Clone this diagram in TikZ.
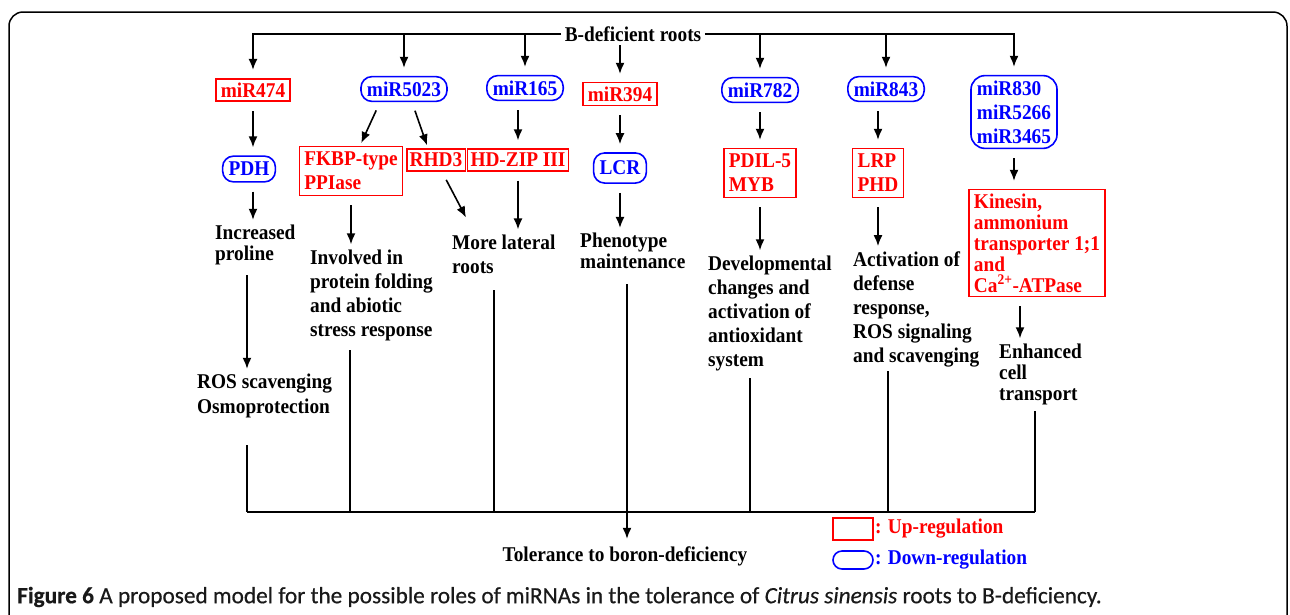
\documentclass[tikz,border=0pt]{standalone}
\usepackage{fontspec}
\setmainfont{Liberation Serif}[FakeStretch=0.92]
\newfontfamily\capfont{Carlito}[FakeBold=0.5]
\usetikzlibrary{arrows.meta}
\tikzstyle{upreg}=[rectangle, draw=red, text=red, line width=1.6pt, inner xsep=5pt, inner ysep=5.5pt, align=left]
\tikzstyle{downreg}=[rectangle, rounded corners=11pt, draw=blue, text=blue, line width=1.6pt, inner xsep=6pt, inner ysep=5pt, align=left]
\tikzstyle{effect}=[anchor=west, align=left, inner sep=1pt]
\tikzstyle{arr}=[-{Latex[length=11pt,width=9pt]}, line width=1.6pt, shorten >=8pt]
\tikzstyle{gap}=[shorten <=9pt]
\tikzstyle{wire}=[line width=1.6pt]

\begin{document}
\begin{tikzpicture}[x=1pt, y=-1pt, font=\fontsize{21}{24}\selectfont\bfseries]
	   \useasboundingbox (0,0) rectangle (1290,614);
	   \fill[white] (0,0) rectangle (1290,614);
	   \draw[line width=1.5pt, rounded corners=14pt] (9,660) -- (9,12) -- (1287,12) -- (1287,660);
		   \begin{scope}
			   \node (top) at (633,34) {B-deficient roots};

			   \node (m474) at (253,90) [upreg, inner ysep=4pt] {miR474};
			   \node (m5023) at (404,89) [downreg] {miR5023};
			   \node (m165) at (525,88) [downreg] {miR165};
			   \node (m394) at (620,94) [upreg, inner ysep=4pt] {miR394};
			   \node (m782) at (760,90) [downreg] {miR782};
			   \node (m843) at (886,89) [downreg] {miR843};
			   \node (m830) at (1014,112) [downreg, rounded corners=14pt] {miR830\\miR5266\\miR3465};

			   \node (pdh) at (249,169) [downreg, inner ysep=6pt] {PDH};
			   \node (fkbp) at (351,171) [upreg] {FKBP-type\\PPIase};
			   \node (rhd3) at (436,160) [upreg, inner xsep=3pt, inner ysep=4pt] {RHD3};
			   \node (hdzip) at (518,160) [upreg, inner xsep=3pt, inner ysep=4pt] {HD-ZIP III};
			   \node (lcr) at (620,168) [downreg, inner ysep=8pt] {LCR};
			   \node (pdil) at (760,173) [upreg] {PDIL-5\\MYB};
			   \node (lrp) at (878,173) [upreg] {LRP\\PHD};
			   \node (kin) at (1037,243) [upreg, inner ysep=4pt, font=\fontsize{21}{21}\selectfont\bfseries] {Kinesin,\\ammonium\\transporter 1;1\\and\\Ca\textsuperscript{2+}-ATPase};

			   \node (proline) at (214,245) [effect, font=\fontsize{21}{21}\selectfont\bfseries] {Increased\\proline};
			   \node (involved) at (309,295) [effect] {Involved in\\protein folding\\and abiotic\\stress response};
			   \node (lateral) at (451,254) [effect] {More lateral\\roots};
			   \node (pheno) at (579,251) [effect, font=\fontsize{21}{21}\selectfont\bfseries] {Phenotype\\maintenance};
			   \node (devel) at (707,313) [effect] {Developmental\\changes and\\activation of\\antioxidant\\system};
			   \node (activ) at (852,309) [effect] {Activation of\\defense\\response,\\ROS signaling\\and scavenging};
			   \node (enhanced) at (998,374) [effect, font=\fontsize{21}{21}\selectfont\bfseries] {Enhanced\\cell\\transport};
			   \node (ros) at (196,396) [effect, font=\fontsize{21}{25}\selectfont\bfseries] {ROS scavenging\\Osmoprotection};
			   \node (tol) at (625,556) {Tolerance to boron-deficiency};

			   \node (upkey) at (853,529) [upreg, minimum width=40pt, minimum height=22pt] {};
			   \node (upleg) at (upkey.east) [anchor=west, text=red, inner sep=1pt] {: Up-regulation};
			   \node (downkey) at (853,560) [downreg, rounded corners=9pt, minimum width=40pt, minimum height=18pt] {};
			   \node (downleg) at (downkey.east) [anchor=west, text=blue, inner sep=1pt] {: Down-regulation};

			   \node (cap) at (17,597) [anchor=west, inner sep=0pt, text=black!90, font=\capfont\fontsize{23.3}{26}\selectfont] {\textbf{Figure 6} A proposed model for the possible roles of miRNAs in the tolerance of \textit{Citrus sinensis} roots to B-deficiency.};

			   \coordinate (a1) at (247,445);
			   \coordinate (a2) at (350,350);
			   \coordinate (a3) at (494,290);
			   \coordinate (a4) at (627,284);
			   \coordinate (a5) at (750,378);
			   \coordinate (a6) at (888,371);
			   \coordinate (a7) at (1035,411);
			   \coordinate (b1) at (247,512);
			   \coordinate (b2) at (350,512);
			   \coordinate (b3) at (494,512);
			   \coordinate (b4) at (627,512);
			   \coordinate (b5) at (750,512);
			   \coordinate (b6) at (888,512);
			   \coordinate (b7) at (1035,512);
		   \end{scope}
		   \begin{scope}
			   \draw [arr] (top.west) -| (m474.north);
			   \draw [arr] (top.west -| m5023) -- (m5023.north);
			   \draw [arr] (top.west -| m165) -- (m165.north);
			   \draw [arr] (top.south -| m394) -- (m394.north);
			   \draw [arr] (top.east) -| (m830.north);
			   \draw [arr] (top.east -| m782) -- (m782.north);
			   \draw [arr] (top.east -| m843) -- (m843.north);

			   \path [arr] (m474.south) edge[gap] (m474.south |- pdh.north);
			   \path [arr, shorten >=3pt] ([xshift=-24pt]m5023.south) edge[gap] ([xshift=9pt]fkbp.north);
			   \path [arr, shorten >=3pt] ([xshift=8pt]m5023.south) edge[gap] ([xshift=-8pt]rhd3.north);
			   \path [arr] (hdzip |- m165.south) edge[gap] (hdzip.north);
			   \path [arr] (m394) edge[gap] (lcr);
			   \path [arr] (m782) edge[gap] (pdil);
			   \path [arr] (lrp |- m843.south) edge[gap] (lrp.north);
			   \path [arr] (m830.south) edge[gap] (m830.south |- kin.north);

			   \path [arr, shorten >=4pt] (m474.south |- pdh.south) edge[gap] (m474.south |- proline.north);
			   \path [arr, shorten >=4pt] (fkbp.south) edge[gap] (fkbp.south |- involved.north);
			   \path [arr, shorten >=0pt] ([xshift=6pt]rhd3.south) edge[gap] ([shift={(15,-16)}]lateral.north west);
			   \path [arr, shorten >=4pt] (hdzip.south) edge[gap] (hdzip.south |- lateral.north);
			   \path [arr, shorten >=4pt] (lcr.south) edge[gap] (lcr.south |- pheno.north);
			   \path [arr, shorten >=4pt] (pdil.south) edge[gap] (pdil.south |- devel.north);
			   \path [arr, shorten >=4pt] (lrp.south) edge[gap] (lrp.south |- activ.north);
			   \path [arr, shorten >=4pt] ([xshift=-17pt]kin.south) edge[gap] ([xshift=-17pt]kin.south |- enhanced.north);
			   \path [arr, shorten >=4pt] (b1 |- proline.south) edge[gap] (b1 |- ros.north);

			   \draw [wire] (b1) -- (b7);
			   \path [wire] (a1) edge (b1);
			   \path [wire] (a2) edge (b2);
			   \path [wire] (a3) edge (b3);
			   \path [wire] (a5) edge (b5);
			   \path [wire] (a6) edge (b6);
			   \path [wire] (a7) edge (b7);
			   \path [arr, shorten >=4pt] (a4) edge (a4 |- tol.north);
		   \end{scope}
	   \end{tikzpicture}
\end{document}
